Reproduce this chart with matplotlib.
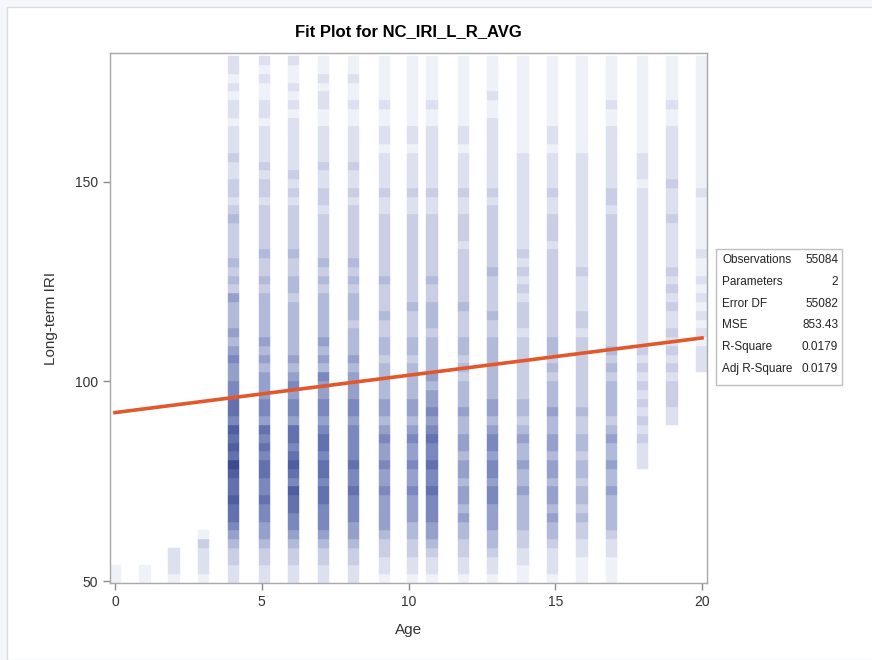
import numpy as np
import matplotlib
matplotlib.use("Agg")
import matplotlib.pyplot as plt
from matplotlib.colors import LinearSegmentedColormap
from matplotlib.patches import Rectangle

plt.rcParams['font.family'] = ['Liberation Sans', 'DejaVu Sans']

# heat map columns: age bin centres and cell shading (0 = empty, 9 = darkest), bottom -> top
age_bins = [0.03, 1.02, 2.01, 3.03, 4.05, 5.08, 6.08, 7.10, 8.12, 9.17, 10.15,
            10.80, 11.86, 12.85, 13.90, 14.92, 15.91, 16.93, 17.96, 18.98, 19.97]
iri_start = 49.5
iri_step = 2.2
shade = [
    "11" + "0" * 58,
    "11" + "0" * 58,
    "1222" + "0" * 56,
    "122231" + "0" * 54,
    "223" "34567" "787789787867" "7665565454" "4453434333" "3432332232" "2212212122",
    "223" "34556" "676677676756" "6555454544" "4443433433" "3332332322" "2212211212",
    "223" "34566" "778678767756" "6565454444" "4434433433" "3332323222" "2221212112",
    "223" "34566" "677677677656" "6556454544" "4443434333" "3323322322" "2211221211",
    "223" "34556" "667667666656" "6555454443" "4443434333" "3332322322" "2211211211",
    "122" "33455" "556556556545" "5444434433" "4333433333" "3322322221" "2211211111",
    "122" "33445" "556556556545" "5444434433" "3433333333" "3322322221" "2211111111",
    "122" "34556" "667667667656" "5545444434" "4433433333" "3322322222" "2211211111",
    "122" "33445" "455455455445" "4443434433" "3433333323" "3322322221" "2211111111",
    "122" "34455" "566566566545" "5444444433" "4333343333" "3332322222" "2221121111",
    "112" "23344" "445445445434" "4333333323" "3323232322" "2222222221" "1111111111",
    "122" "23445" "455455455445" "4443434433" "3333333323" "3322322221" "2211111111",
    "111" "22334" "344344344334" "3333333323" "3222232222" "2222222221" "1111111111",
    "111" "22344" "445445445434" "4443434333" "3333333333" "3323322222" "2211211111",
    "0" * 13 + "2223232" "3232323222" "2222222222" "2222212221" "1111111111",
    "0" * 18 + "22" "3332323232" "2323232222" "2322232222" "2211211111",
    "0" * 24 + "222121" "2121211211" "1111211111" "1111111111",
]

# fitted line end points
fit_age = [0, 20]
fit_iri = [92.2, 110.9]

stat_names = ["Observations", "Parameters", "Error DF", "MSE", "R-Square", "Adj R-Square"]
stat_values = ["55084", "2", "55082", "853.43", "0.0179", "0.0179"]

W, H = 872, 660
fig = plt.figure(figsize=(W / 100, H / 100), dpi=100)
fig.patch.set_facecolor("#f6f7fa")
# white panel with thin border, behind everything
fig.patches.append(Rectangle((7 / W, 0), 1, 1 - 7 / H, transform=fig.transFigure,
                             facecolor="white", edgecolor="#d9dce3", lw=1.0, zorder=-10))

ax = fig.add_axes([110 / W, 1 - 583 / H, 597 / W, 530 / H])
ax.set_facecolor("white")

cmap = LinearSegmentedColormap.from_list("sas", ["#eff1f8", "#bcc3df", "#7180b8", "#3a4b92"])

for x, col in zip(age_bins, shade):
    for i, ch in enumerate(col):
        lv = int(ch)
        if lv == 0:
            continue
        c = cmap((lv - 1) / 8)
        ax.bar(x, iri_step, bottom=iri_start + i * iri_step, width=0.38,
               color=c, edgecolor=c, linewidth=0.3, zorder=1)

ax.plot(fit_age, fit_iri, color="#e2572b", lw=2.6, zorder=3)

ax.set_xlim(-0.17, 20.17)
ax.set_ylim(49.5, 182.3)
ax.set_xticks([0, 5, 10, 15, 20])
ax.set_yticks([50, 100, 150])
for s in ax.spines.values():
    s.set_color("#a8a8a8")
    s.set_linewidth(1.0)
ax.tick_params(colors="#8c8c8c", labelcolor="#333333", labelsize=10, length=5, width=1)
ax.set_xlabel("Age", fontsize=11, color="#333333", labelpad=10)
ax.set_ylabel("Long-term IRI", fontsize=11, color="#333333", labelpad=12)
ax.set_title("Fit Plot for NC_IRI_L_R_AVG", fontsize=12, fontweight="bold", pad=12)

# statistics box
bx0, by0, bx1, by1 = 716, 249, 842, 385
fig.patches.append(Rectangle((bx0 / W, 1 - by1 / H), (bx1 - bx0) / W, (by1 - by0) / H,
                             transform=fig.transFigure, facecolor="white",
                             edgecolor="#bfbfbf", lw=1.0, zorder=-5))
for k, (nm, vl) in enumerate(zip(stat_names, stat_values)):
    yy = 1 - (260 + k * 21.8) / H
    fig.text(722 / W, yy, nm, fontsize=8.5, color="#222222", va="center", ha="left")
    fig.text(838 / W, yy, vl, fontsize=8.5, color="#222222", va="center", ha="right")

fig.savefig("out.png", dpi=100, facecolor=fig.get_facecolor())
